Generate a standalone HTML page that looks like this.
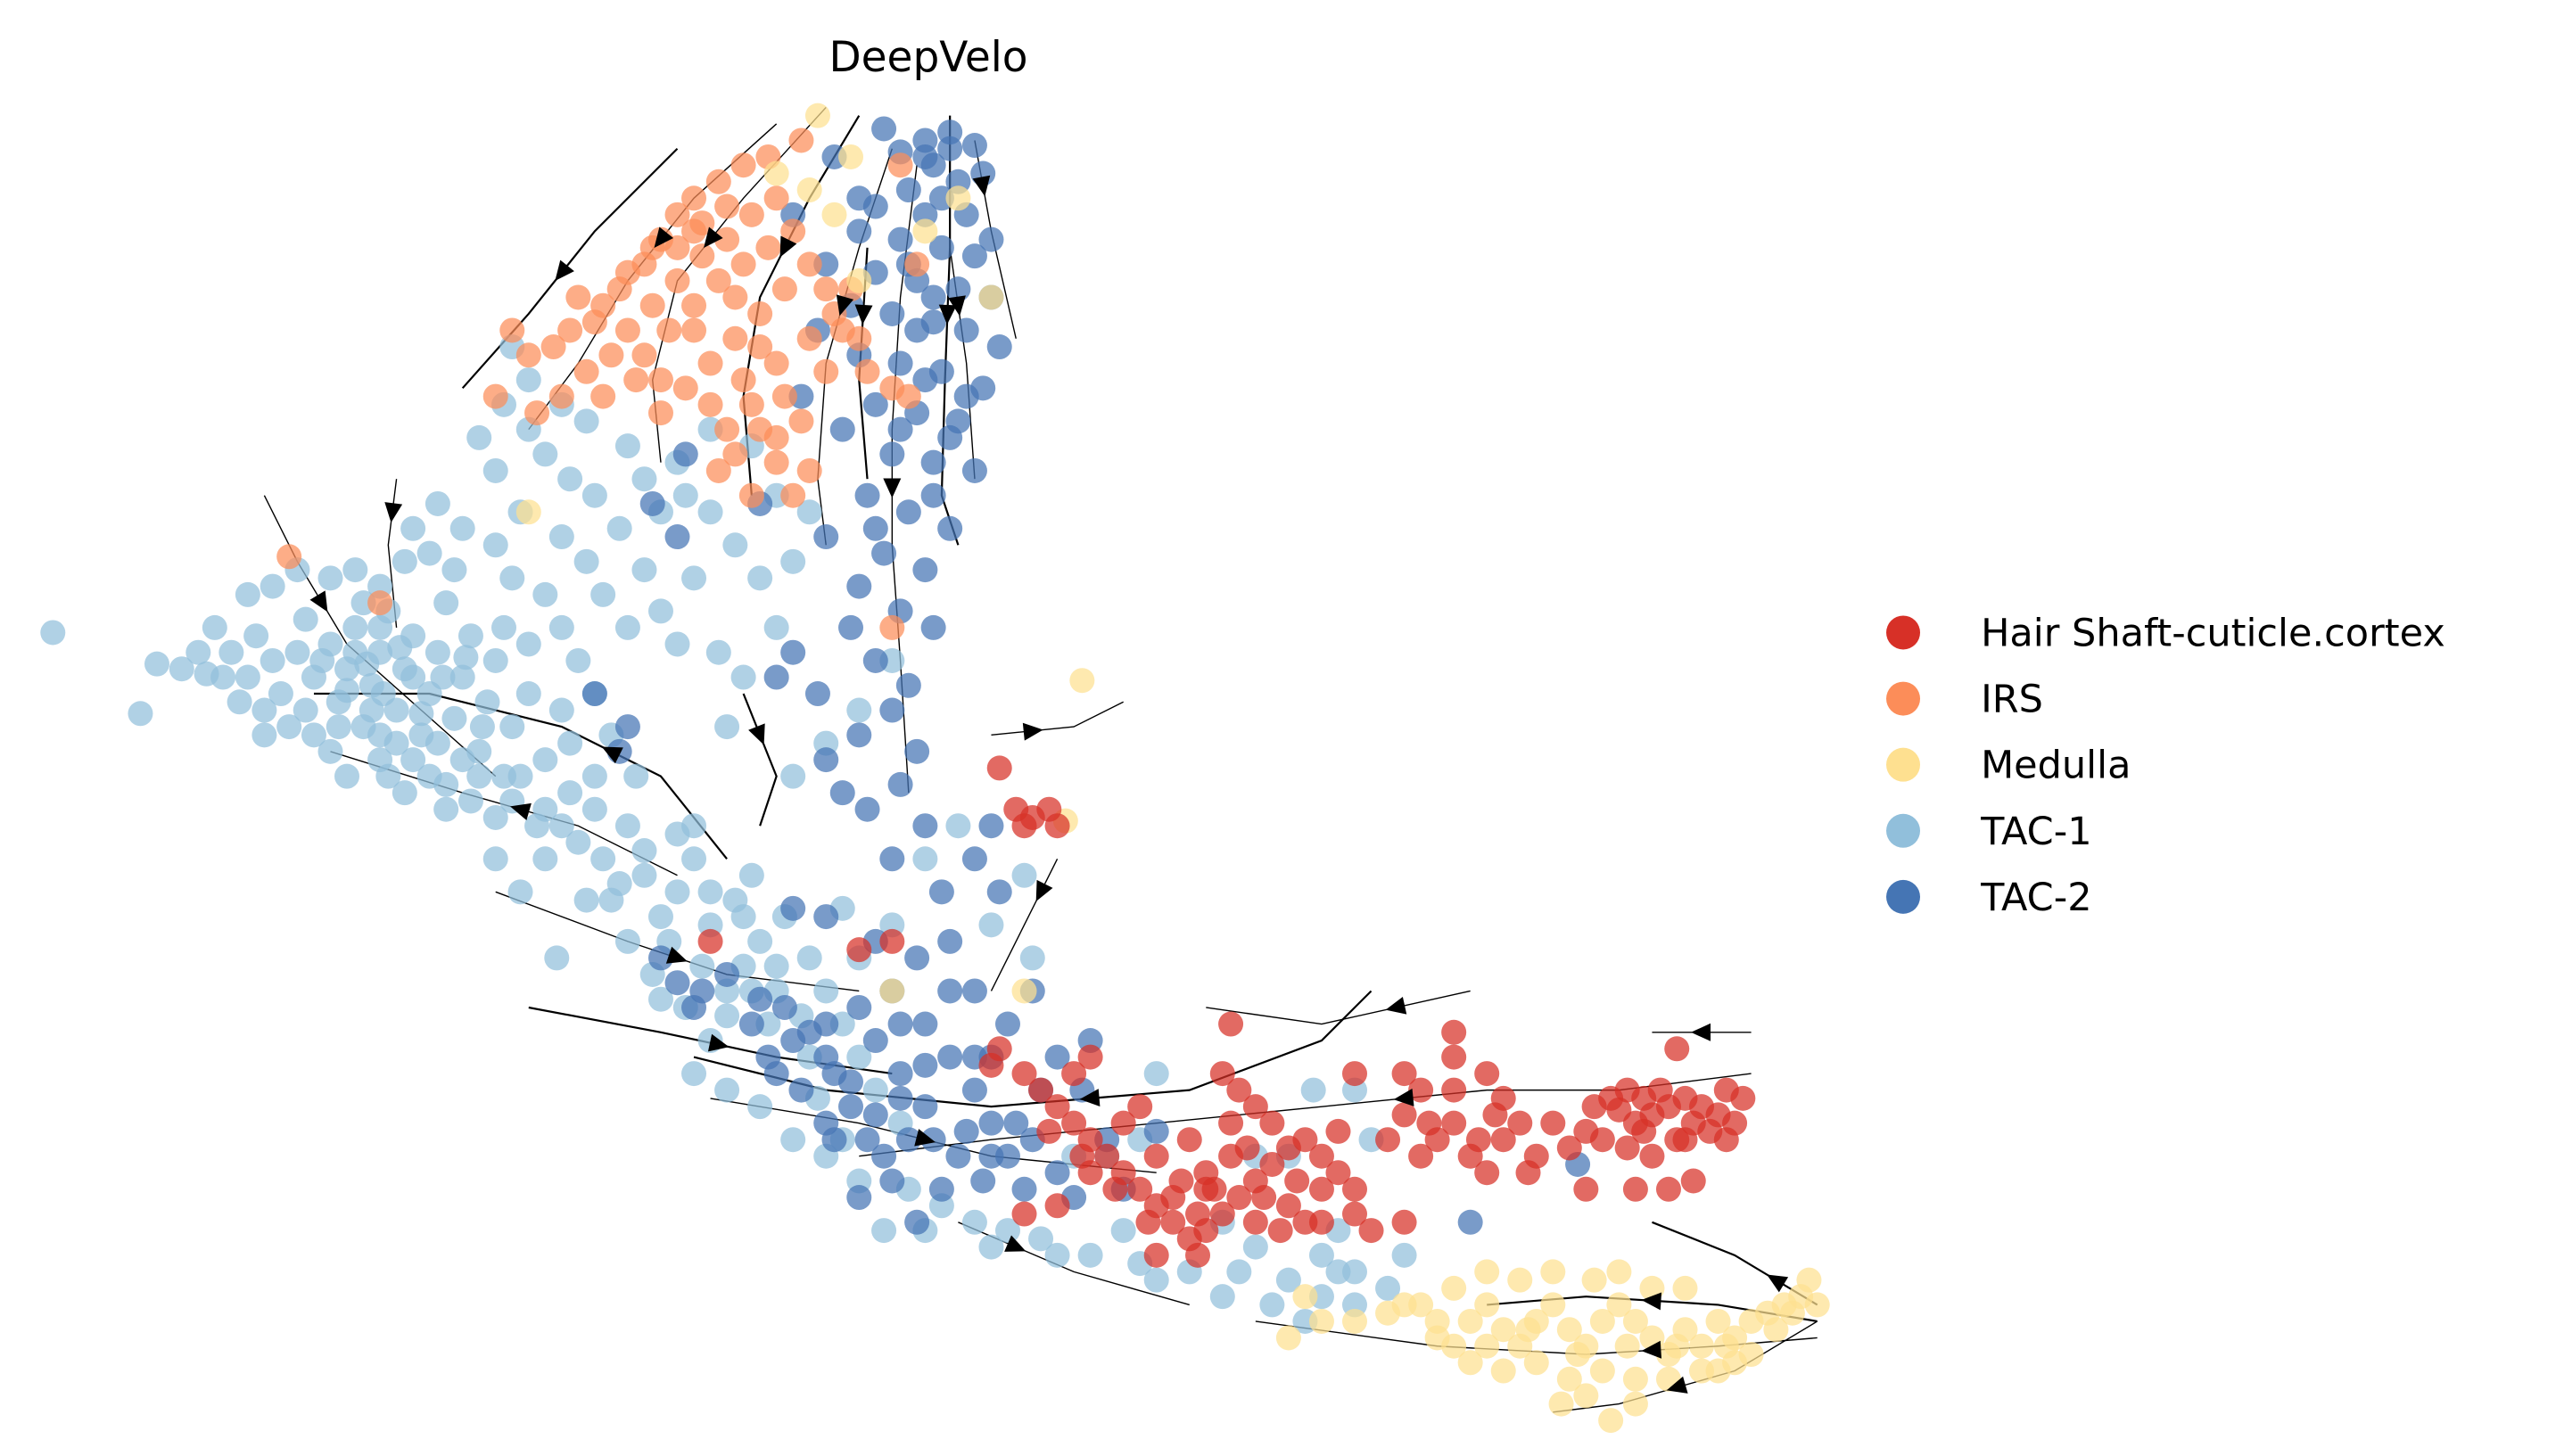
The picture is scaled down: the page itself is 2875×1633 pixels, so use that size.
<!DOCTYPE html>
<html>
<head>
<meta charset="utf-8">
<style>
html,body{margin:0;padding:0;background:#fff;}
svg{display:block;}
text{font-family:"DejaVu Sans","Liberation Sans",sans-serif;fill:#000;}
</style>
</head>
<body>
<svg id="chart" width="2875" height="1633" viewBox="0 0 2875 1633" xmlns="http://www.w3.org/2000/svg">
<text x="1041" y="80" font-size="47" text-anchor="middle">DeepVelo</text>
<g id="streams"></g>
<g id="points"></g>
<g id="arrows"></g>
<g id="legend"></g>
</svg>
<script>
const categories = ["Hair Shaft-cuticle.cortex","IRS","Medulla","TAC-1","TAC-2"];
const colors = ["#d73027","#fc8d59","#fee090","#91bfdb","#4575b4"];
const tac1Pts = "32,383 85,432 95,402 110,405 125,408 130,380 140,395 150,410 155,385 165,400 170,420 180,395 185,375 190,410 200,390 205,425 210,405 215,380 220,440 225,415 230,395 235,370 240,430 245,405 250,385 255,445 260,420 265,395 270,365 275,435 280,410 285,385 290,455 295,425 300,400 305,380 310,440 315,470 320,420 200,455 210,470 230,460 245,480 260,470 270,490 285,485 300,495 190,445 175,440 160,430 150,360 165,355 180,345 200,350 215,345 230,355 245,340 250,320 260,335 275,345 265,305 280,320 300,330 310,350 330,360 340,380 320,390 350,400 360,420 340,430 370,445 330,460 345,480 325,500 350,510 365,520 380,500 390,530 370,545 400,555 410,540 420,520 430,560 445,545 460,570 475,555 490,580 470,600 500,600 510,620 520,640 490,640 530,660 545,680 430,630 420,650 440,660 460,670 480,690 500,700 520,715 550,720 570,730 590,740 610,745 630,750 660,760 690,765 720,770 750,770 780,775 800,785 820,790 840,780 760,755 740,740 800,760 820,770 850,760 810,745 830,690 820,660 795,660 780,700 760,700 700,650 690,690 670,700 650,700 540,400 300,285 290,265 305,245 320,260 330,275 345,290 360,300 375,320 390,290 400,310 415,300 430,310 445,330 420,350 400,370 380,380 410,390 435,395 450,410 470,380 460,350 480,340 315,310 340,325 355,340 365,360 390,345 310,210 320,230 340,245 355,255 380,270 410,280 430,260 455,270 470,300 490,310 440,440 480,470 500,450 520,430 560,520 580,500 620,530 600,560 625,580 337,580 315,540 300,520 330,520 355,545 380,570 395,590 415,610 440,615 455,600 520,580 540,560 510,550 120,395 135,410 145,425 215,395 225,430 250,410 265,450 235,470 280,460 305,470 330,490 360,490 390,515 410,505 430,540 450,555 470,585 440,600 400,605 195,400 210,418 222,402 232,420 242,392 255,432 268,410 282,398 292,440 230,445 250,460 270,475 290,470 310,485 340,500 375,535 405,570 425,585 450,585 465,620 485,615 495,665 510,690 535,745 560,745 600,755 640,760 680,745 700,775 740,785 770,790 790,800 810,770 230,380 220,365 185,430 160,445 205,440 240,450 345,450 360,470 385,470 420,500 455,530";
const tac2Pts = "535,78 545,92 560,85 575,80 590,88 565,100 580,110 550,115 530,125 560,130 585,130 520,140 545,145 570,150 590,155 600,145 530,165 555,170 580,175 600,180 515,185 540,190 565,195 585,200 605,210 520,215 545,220 570,225 595,235 530,245 555,250 580,255 510,260 540,275 565,280 590,285 525,300 550,310 575,320 500,325 535,335 560,345 520,355 545,370 565,380 515,380 530,400 550,415 540,430 520,445 555,455 545,475 525,490 560,500 540,520 570,540 510,480 500,460 495,420 480,395 470,410 380,440 375,455 360,420 410,325 395,305 415,275 460,305 485,240 495,200 500,160 480,130 505,95 520,120 600,500 590,520 605,540 400,580 410,595 425,600 440,590 455,620 465,640 475,610 490,625 505,650 515,670 525,690 535,700 550,690 560,670 545,650 530,630 520,610 540,600 560,620 575,640 590,660 600,680 610,700 620,720 595,715 580,700 570,720 555,740 575,600 590,600 610,620 625,600 640,640 655,660 660,630 670,690 640,710 650,725 680,720 520,725 500,680 485,660 470,650 630,660 600,640 575,570 555,580 530,570 500,555 480,550 700,685 890,740 955,705 575,90 595,105 555,200 575,265 505,690 540,715 615,680 480,630 500,640 515,655 530,675 545,665 565,690 585,685 600,700 625,690 590,640 560,645 545,620 500,620 460,605 420,610 560,95 570,120 550,160 565,180 545,260 565,300 530,320 560,230 585,240";
const irsPts = "350,180 360,195 345,200 375,175 390,160 400,145 410,130 420,120 435,110 450,100 465,95 470,120 455,130 440,145 425,155 410,170 395,185 380,200 370,215 355,225 340,240 325,250 320,215 335,210 390,215 405,200 420,185 435,170 450,160 465,150 480,140 490,160 475,175 460,190 445,205 430,220 415,235 400,250 385,230 450,230 470,220 490,205 505,190 515,175 500,225 520,205 525,225 485,255 460,260 445,275 470,280 490,285 480,300 455,300 435,285 430,245 500,175 510,200 545,100 555,160 540,235 300,240 310,200 230,365 175,337 485,85 420,140 440,125 540,380 550,240 365,185 380,165 395,150 410,150 425,135 445,180 460,210 475,240 455,245 470,265 440,260 420,200 400,230 365,240";
const medullaPts = "495,70 470,105 490,115 580,120 600,180 520,170 505,130 515,95 560,140 320,310 655,412 645,497 620,600 540,600 790,785 780,810 800,800 820,800 840,795 860,790 870,800 880,815 890,800 900,790 910,805 920,815 930,800 940,790 950,805 960,815 970,800 980,790 990,800 1000,810 1010,820 1020,805 1030,815 1040,800 1050,810 1060,800 1070,795 1080,790 1090,785 1095,775 890,825 910,830 930,825 950,835 970,830 990,835 1010,835 1030,830 1050,825 975,860 990,850 965,775 980,770 1000,780 1020,780 940,770 920,775 900,770 880,780 1060,820 1040,830 960,845 945,850 1100,790 850,790 870,810 900,815 925,805 955,820 985,815 1015,815 1045,815 1075,805 1085,795";
const hairPts = "605,465 615,490 625,495 635,490 620,500 640,500 430,570 520,575 540,570 605,635 620,650 630,660 640,670 650,680 660,690 670,700 680,710 690,720 700,730 710,740 720,750 730,745 740,735 750,725 760,715 770,705 780,695 790,690 800,700 810,710 770,680 760,670 750,660 740,650 745,620 690,670 680,680 660,710 640,730 620,735 700,700 715,715 730,720 745,700 760,740 775,745 790,740 800,720 820,720 830,745 850,740 860,700 870,690 880,680 890,700 900,710 910,690 920,680 880,660 860,660 850,675 840,690 880,640 880,625 900,650 910,665 930,700 950,695 960,685 965,670 975,665 985,660 995,665 1000,675 1010,670 1020,665 1030,670 1040,675 1050,680 1055,665 1015,690 1000,700 985,695 970,690 960,720 990,720 1010,720 1025,715 1015,635 820,650 810,685 720,690 730,710 725,760 700,760 650,650 660,640 600,645 940,680 925,710 745,680 780,730 850,650 990,680 1035,685 1045,660 980,672 995,685 1025,680 1045,690 1005,660 1020,690 635,685 655,700 675,720 695,740 710,725 725,735 735,720 755,695 765,725 785,715 800,740 820,735 865,680 895,690 905,675";
const seriesPts = [hairPts, irsPts, medullaPts, tac1Pts, tac2Pts];
const drawOrder = [3, 4, 1, 2, 0];

const streamPaths = [
"410,90 360,140 320,190 280,235","470,75 420,120 380,170 350,220 320,260","500,65 450,120 410,170 395,230 400,280",
"520,70 490,120 460,180 450,240 455,300","540,90 520,150 500,220 495,290 500,330","555,100 545,180 540,260 540,330 545,400 550,480",
"575,70 575,150 572,230 570,300 580,330","590,85 600,140 615,205","575,150 585,220 590,290","525,150 520,230 525,290",
"160,300 180,340 210,390 300,470","240,290 235,330 240,380","440,520 400,470 340,440 260,420 190,420",
"410,530 350,500 280,480 200,455","300,540 380,570 440,590 520,600","320,610 400,625 470,640 540,650",
"430,665 520,680 600,700 700,710","1060,650 980,660 900,660 800,670 700,680 600,690 520,700",
"1100,800 1040,790 960,785 900,790","1100,810 1040,815 960,820 870,815 760,800","1100,800 1050,830 980,850 940,855",
"1100,790 1050,760 1000,740","890,600 800,620 730,610","1060,625 1000,625","830,600 800,630 720,660 600,670 500,660 420,640",
"580,740 650,770 720,790","600,445 650,440 680,425","450,420 470,470 460,500","640,520 620,560 600,600"
];
const S = 2875 / 1552;
function sx(v){ return v * S; }
function sy(v){ return v * S; }
const NS = "http://www.w3.org/2000/svg";
function parse(str){ return str.trim().split(/\s+/).map(p => p.split(",").map(Number)); }

const gStreams = document.getElementById("streams");
const gArrows = document.getElementById("arrows");
streamPaths.forEach((str, i) => {
  const pts = parse(str);
  const pl = document.createElementNS(NS, "polyline");
  pl.setAttribute("points", pts.map(p => sx(p[0]) + "," + sy(p[1])).join(" "));
  pl.setAttribute("fill", "none");
  pl.setAttribute("stroke", "#000");
  pl.setAttribute("stroke-width", i % 3 === 0 ? "2.2" : "1.4");
  
  
  gStreams.appendChild(pl);
  const k = Math.max(1, Math.floor(pts.length / 2));
  const a = pts[k - 1], b = pts[k];
  const mx = sx((a[0] + b[0]) / 2), my = sy((a[1] + b[1]) / 2);
  const ang = Math.atan2(b[1] - a[1], b[0] - a[0]) * 180 / Math.PI;
  const tri = document.createElementNS(NS, "polygon");
  tri.setAttribute("points", "12,0 -10,-10 -10,10");
  tri.setAttribute("fill", "#000");
  tri.setAttribute("transform", "translate(" + mx + "," + my + ") rotate(" + ang + ")");
  
  
  gArrows.appendChild(tri);
});

const gPoints = document.getElementById("points");
drawOrder.forEach(ci => {
  parse(seriesPts[ci]).forEach(p => {
    const c = document.createElementNS(NS, "circle");
    c.setAttribute("cx", sx(p[0]));
    c.setAttribute("cy", sy(p[1]));
    c.setAttribute("r", 14);
    c.setAttribute("fill", colors[ci]);
    c.setAttribute("fill-opacity", "0.72");
    
    
    gPoints.appendChild(c);
  });
});

const gLegend = document.getElementById("legend");
categories.forEach((name, i) => {
  const y = sy(383 + i * 40);
  const g = document.createElementNS(NS, "g");
  
  
  const c = document.createElementNS(NS, "circle");
  c.setAttribute("cx", sx(1152));
  c.setAttribute("cy", y);
  c.setAttribute("r", 19);
  c.setAttribute("fill", colors[i]);
  
  
  const t = document.createElementNS(NS, "text");
  t.setAttribute("x", sx(1199));
  t.setAttribute("y", y + 15);
  t.setAttribute("font-size", "43");
  t.textContent = name;
  
  
  g.appendChild(c);
  g.appendChild(t);
  gLegend.appendChild(g);
});
</script>
</body>
</html>
